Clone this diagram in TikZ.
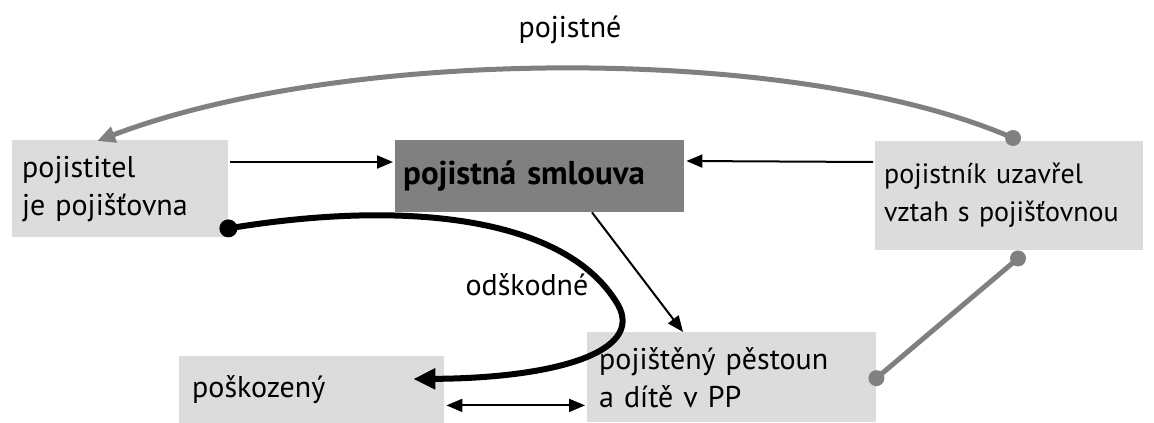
\documentclass[tikz,border=0pt]{standalone}
\usepackage{fontspec}
\setmainfont{PT Sans}
\usetikzlibrary{calc, arrows.meta}
\hyphenpenalty=10000
\definecolor{lightbox}{HTML}{DCDCDC}
\definecolor{darkbox}{HTML}{808080}
\definecolor{linkgray}{HTML}{808080}
\tikzset{
  lbox/.style={fill=lightbox, anchor=north west, align=left, inner ysep=0pt,
    font=\fontsize{30}{38}\selectfont},
  thin/.style={line width=2pt, -{Triangle[length=16pt,width=13pt]}},
}

\begin{document}
\begin{tikzpicture}[x=1pt,y=-1pt]
\useasboundingbox (0,0) rectangle (1154,423);
% Boxes
\node[lbox, inner xsep=10pt, text width=196pt, minimum height=97pt] (pojistitel) at (12,140)
  {pojistitel\\je pojišťovna};
\node[lbox, fill=darkbox, inner xsep=8pt, text width=273pt, minimum height=72pt,
  font=\fontsize{33}{38}\selectfont] (smlouva) at (395,140)
  {\textbf{pojistná smlouva}};
\node[lbox, inner xsep=9pt, text width=250pt, minimum height=109pt,
  font=\fontsize{28}{38}\selectfont] (pojistnik) at (875,141)
  {\mbox{pojistník uzavřel}\\\mbox{vztah s pojišťovnou}\\[6pt]};
\node[lbox, inner xsep=12pt, text width=265pt, minimum height=90pt] (pojisteny) at (587,332)
  {pojištěný pěstoun\\a dítě v PP};
\node[lbox, inner xsep=13pt, text width=239pt, minimum height=67pt] (poskozeny) at (179,356)
  {poškozený};
% Labels
\node[font=\fontsize{30}{38}\selectfont] (pojistne) at (570,30) {pojistné};
\node[font=\fontsize{30}{38}\selectfont] (odskodne) at (527,285) {odškodné};
% Thin arrows
\draw[thin] ($(pojistitel.north east)+(2,22)$) -- ($(smlouva.north west)+(-2,22)$);
\draw[thin] ($(pojistnik.north west)+(-2,21)$) -- ($(smlouva.north east)+(2,21)$);
\draw[thin] ($(smlouva.south west)+(197,0)$) -- ($(pojisteny.north west)+(96,0)$);
\draw[thin, {Triangle[length=16pt,width=13pt]}-{Triangle[length=16pt,width=13pt]}]
  ($(poskozeny.south east)+(2,-18)$) -- ($(pojisteny.south west)+(-2,-17)$);
% Gray links
\coordinate (pa) at ($(pojistnik.north west)+(138,-3)$);
\coordinate (pb) at ($(pojistitel.north)+(-23,1)$);
\draw[linkgray, line width=5pt, -{Triangle[length=18pt,width=16pt]}]
  (pa) .. controls (800,45) and (350,45) .. (pb);
\fill[linkgray] (pa) circle (8pt);
\coordinate (pc) at ($(pojistnik.south west)+(143,8)$);
\coordinate (pd) at ($(pojisteny.east)+(0,1)$);
\draw[linkgray, line width=5pt] (pc) -- (pd);
\fill[linkgray] (pc) circle (8pt);
\fill[linkgray] (pd) circle (8pt);
% Thick curve
\coordinate (oa) at ($(pojistitel.south east)+(0,-9)$);
\coordinate (ob) at ($(poskozeny.north east)+(-31,23)$);
\draw[line width=6pt, -{Triangle[length=22pt,width=20pt]}]
  (oa) .. controls (400,200) and (560,215) .. (615,300)
  .. controls (650,350) and (560,378) .. (ob);
\fill (oa) circle (9pt);
\end{tikzpicture}
\end{document}
